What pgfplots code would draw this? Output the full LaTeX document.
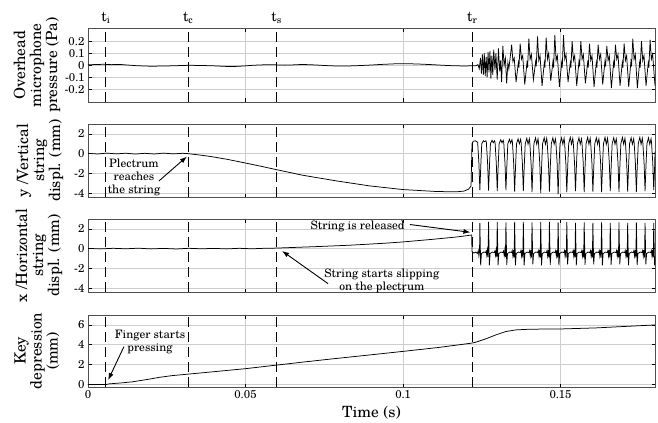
\documentclass[border=0pt]{standalone}
\usepackage{fontspec}
\setmainfont{TeX Gyre Schola}
\usepackage{pgfplots}
\pgfplotsset{compat=1.18}
\usetikzlibrary{arrows.meta}
\definecolor{gridc}{RGB}{205,205,205}
\definecolor{framec}{RGB}{80,80,80}
\pgfplotsset{
 panel/.style={scale only axis, width=567pt, xmin=0, xmax=0.18,
   xtick={0,0.05,0.1,0.15}, grid=major,
   major grid style={gridc, line width=0.7pt},
   axis line style={framec, line width=0.8pt},
   tick align=inside, major tick length=3.5pt,
   tick style={black, line width=0.6pt},
   ticklabel style={font=\fontsize{11.5}{12}\selectfont},
   /pgf/number format/assume math mode=true,
   ylabel style={align=center, font=\fontsize{15.5}{16}\selectfont, anchor=center},
   xlabel style={font=\fontsize{15.5}{16}\selectfont},
   clip mode=individual, anchor=south west},
 sig/.style={black, line width=0.75pt, no markers},
 tline/.style={black, line width=1pt, dash pattern=on 10pt off 5pt, no markers},
}
\tikzset{
 ann/.style={font=\fontsize{11.6}{13}\selectfont, align=center, inner sep=0pt},
 tlab/.style={font=\fontsize{14}{14}\selectfont, anchor=base, inner sep=0pt},
 arr/.style={-{Latex[length=7pt,width=5pt]}, line width=0.9pt},
}
\begin{document}
\begin{tikzpicture}
\path (0,0) rectangle (658pt,421pt);
% ---------- Panel 1 ----------
\begin{axis}[panel, at={(88pt,319pt)}, height=73.5pt, ymin=-0.305, ymax=0.305,
  ytick={-0.2,-0.1,0,0.1,0.2}, yticklabels={-0.2,-0.1,0,0.1,0.2}, xticklabels={},
  ylabel={Overhead\\microphone\\pressure (Pa)},
  ylabel style={at={(axis description cs:-0.09,0.5)}}]
\addplot[tline] coordinates {(0.0057,-0.305)(0.0057,0.305)};
\addplot[tline] coordinates {(0.0318,-0.305)(0.0318,0.305)};
\addplot[tline] coordinates {(0.0599,-0.305)(0.0599,0.305)};
\addplot[tline] coordinates {(0.1220,-0.305)(0.1220,0.305)};
\addplot[sig] coordinates {
(0,0.004)(0.0025,0.006)(0.005,0.008)(0.0075,0.005)(0.01,0.007)(0.0125,0.002)(0.015,-0.003)(0.0175,-0.006)(0.02,-0.008)(0.0225,-0.007)(0.025,-0.006)(0.0275,-0.004)(0.03,-0.002)(0.0325,0.0)(0.035,-0.002)(0.0375,-0.003)(0.04,-0.005)(0.0425,-0.008)(0.045,-0.011)(0.0475,-0.009)(0.05,-0.005)(0.0525,0.0)(0.055,0.003)(0.0575,0.004)(0.06,0.003)(0.0625,0.001)(0.065,0.003)(0.0675,0.006)(0.07,0.005)(0.0725,0.002)(0.075,-0.002)(0.0775,-0.005)(0.08,-0.007)(0.0825,-0.006)(0.085,-0.004)(0.0875,-0.001)(0.09,0.002)(0.0925,0.006)(0.095,0.009)(0.0975,0.012)(0.1,0.013)(0.1025,0.012)(0.105,0.01)(0.1075,0.007)(0.11,0.004)(0.1125,0.0)(0.115,-0.003)(0.1175,-0.005)(0.12,-0.006)(0.1219,-0.004)
(0.1225,-0.005)(0.1232,-0.003)(0.1238,0.005)(0.1242,-0.03)(0.1246,0.06)(0.1249,-0.07)(0.1252,0.09)(0.1255,-0.08)(0.1258,0.1)(0.1261,-0.09)(0.1264,0.07)(0.1267,-0.1)(0.127,0.11)(0.1273,-0.06)(0.1276,0.12)(0.1279,-0.11)(0.1282,0.08)(0.1285,-0.08)(0.1288,0.13)(0.1292,-0.04)(0.1295,0.1)(0.1299,-0.12)(0.1303,0.14)(0.1307,-0.05)(0.131,0.04)(0.1313,-0.14)(0.1317,0.16)(0.1321,0.0)(0.1325,0.06)(0.1329,-0.15)(0.1333,0.02)(0.1336,-0.03)(0.1345,0.17)(0.1349,0.03)(0.1353,0.06)
(0.1359,-0.14)(0.1366,0.02)(0.1368,-0.02)(0.1372,0.18)(0.1376,0.05)(0.138,0.08)
(0.13865,-0.16)(0.13935,0.02)(0.13955,-0.02)(0.13995,0.22)(0.14035,0.05)(0.14075,0.09)
(0.1414,-0.12)(0.1421,0.03)(0.1423,-0.01)(0.1427,0.24)(0.1431,0.04)(0.1435,0.08)
(0.14415,-0.17)(0.14485,0.02)(0.14505,-0.02)(0.14545,0.23)(0.14585,0.05)(0.14625,0.1)
(0.1469,-0.13)(0.1476,0.03)(0.1478,-0.02)(0.1482,0.25)(0.1486,0.04)(0.149,0.08)
(0.14965,-0.18)(0.15035,0.02)(0.15055,-0.02)(0.15095,0.25)(0.15135,0.05)(0.15175,0.09)
(0.1524,-0.14)(0.1531,0.02)(0.1533,-0.02)(0.1537,0.2)(0.1541,0.04)(0.1545,0.08)
(0.15515,-0.17)(0.15585,0.03)(0.15605,-0.01)(0.15645,0.2)(0.15685,0.05)(0.15725,0.09)
(0.1579,-0.15)(0.1586,0.02)(0.1588,-0.02)(0.1592,0.18)(0.1596,0.04)(0.16,0.08)
(0.16065,-0.18)(0.16135,0.02)(0.16155,-0.02)(0.16195,0.17)(0.16235,0.05)(0.16275,0.09)
(0.1634,-0.16)(0.1641,0.03)(0.1643,-0.01)(0.1647,0.16)(0.1651,0.04)(0.1655,0.08)
(0.16615,-0.19)(0.16685,0.02)(0.16705,-0.02)(0.16745,0.17)(0.16785,0.05)(0.16825,0.09)
(0.1689,-0.17)(0.1696,0.02)(0.1698,-0.02)(0.1702,0.18)(0.1706,0.04)(0.171,0.08)
(0.17165,-0.18)(0.17235,0.03)(0.17255,-0.01)(0.17295,0.22)(0.17335,0.05)(0.17375,0.09)
(0.1744,-0.19)(0.1751,0.02)(0.1753,-0.02)(0.1757,0.2)(0.1761,0.04)(0.1765,0.08)
(0.17715,-0.17)(0.17785,0.02)(0.17805,-0.02)(0.17845,0.21)(0.17885,0.05)(0.17925,0.09)
(0.18,-0.17)};
\node[tlab] at (axis cs:0.0057,0.305) [yshift=7pt] {t\textsubscript{i}};
\node[tlab] at (axis cs:0.0318,0.305) [yshift=7pt] {t\textsubscript{c}};
\node[tlab] at (axis cs:0.0599,0.305) [yshift=7pt] {t\textsubscript{s}};
\node[tlab] at (axis cs:0.1220,0.305) [yshift=7pt] {t\textsubscript{r}};
\end{axis}
% ---------- Panel 2 ----------
\begin{axis}[panel, at={(88pt,224pt)}, height=73pt, ymin=-4.4, ymax=3,
  ytick={-4,-2,0,2}, yticklabels={-4,-2,0,2}, xticklabels={},
  ylabel={y /Vertical\\string\\displ. (mm)},
  ylabel style={at={(axis description cs:-0.0847,0.5)}}]
\addplot[tline] coordinates {(0.0057,-4.4)(0.0057,3)};
\addplot[tline] coordinates {(0.0318,-4.4)(0.0318,3)};
\addplot[tline] coordinates {(0.0599,-4.4)(0.0599,3)};
\addplot[tline] coordinates {(0.1220,-4.4)(0.1220,3)};
\addplot[sig] coordinates {
(0,0.03)(0.003,-0.04)(0.006,0.05)(0.009,-0.03)(0.012,0.04)(0.015,-0.05)(0.018,0.03)(0.021,-0.04)(0.024,0.05)(0.027,-0.03)(0.03,0.03)(0.0316,0.0)(0.0343,-0.1)(0.0385,-0.27)(0.0440,-0.57)(0.0499,-0.95)(0.0550,-1.29)(0.0597,-1.62)(0.0681,-2.19)(0.0787,-2.76)(0.0893,-3.27)(0.0998,-3.64)(0.1104,-3.84)(0.1168,-3.88)(0.1194,-3.8)(0.1208,-3.6)(0.1216,-3.3)
(0.1219,1.0)(0.1223,1.25)(0.1230,1.3)(0.1237,1.15)
(0.1241,-1.0)(0.1244,-3.7)(0.1247,-1.2)(0.125,1.0)(0.1255,1.3)(0.1259,1.2)(0.1263,1.3)
(0.12646,1.15)(0.12686,-1.0)(0.12716,-3.75)(0.12746,-1.2)(0.12776,1.0)(0.12826,1.35)(0.12866,1.1)(0.12906,1.3)
(0.12922,1.15)(0.12962,-1.0)(0.12992,-3.8)(0.13022,-1.2)(0.13052,1.0)(0.13102,1.4)(0.13142,1.1)(0.13182,1.35)
(0.13198,1.15)(0.13238,-1.0)(0.13268,-3.7)(0.13298,-1.2)(0.13328,1.0)(0.13378,1.45)(0.13418,1.05)(0.13458,1.4)
(0.13474,1.15)(0.13514,-1.0)(0.13544,-3.85)(0.13574,-1.2)(0.13604,1.0)(0.13654,1.5)(0.13694,1.0)(0.13734,1.45)
(0.1375,1.1)(0.1379,-1.0)(0.1382,-3.8)(0.1385,-1.2)(0.1388,1.0)(0.1393,1.55)(0.1397,0.95)(0.1401,1.5)
(0.14026,1.1)(0.14066,-1.0)(0.14096,-3.9)(0.14126,-1.2)(0.14156,1.0)(0.14206,1.6)(0.14246,0.95)(0.14286,1.5)
(0.14302,1.1)(0.14342,-1.0)(0.14372,-4.0)(0.14402,-1.2)(0.14432,1.0)(0.14482,1.6)(0.14522,0.95)(0.14562,1.55)
(0.14578,1.1)(0.14618,-1.0)(0.14648,-3.85)(0.14678,-1.2)(0.14708,1.0)(0.14758,1.6)(0.14798,0.95)(0.14838,1.5)
(0.14854,1.1)(0.14894,-1.0)(0.14924,-4.1)(0.14954,-1.2)(0.14984,1.0)(0.15034,1.6)(0.15074,0.95)(0.15114,1.55)
(0.1513,1.1)(0.1517,-1.0)(0.152,-3.9)(0.1523,-1.2)(0.1526,1.0)(0.1531,1.65)(0.1535,0.95)(0.1539,1.55)
(0.15406,1.1)(0.15446,-1.0)(0.15476,-3.8)(0.15506,-1.2)(0.15536,1.0)(0.15586,1.6)(0.15626,0.95)(0.15666,1.5)
(0.15682,1.1)(0.15722,-1.0)(0.15752,-3.9)(0.15782,-1.2)(0.15812,1.0)(0.15862,1.65)(0.15902,0.95)(0.15942,1.55)
(0.15958,1.1)(0.15998,-1.0)(0.16028,-3.85)(0.16058,-1.2)(0.16088,1.0)(0.16138,1.6)(0.16178,0.95)(0.16218,1.5)
(0.16234,1.1)(0.16274,-1.0)(0.16304,-3.9)(0.16334,-1.2)(0.16364,1.0)(0.16414,1.65)(0.16454,0.95)(0.16494,1.55)
(0.1651,1.1)(0.1655,-1.0)(0.1658,-3.8)(0.1661,-1.2)(0.1664,1.0)(0.1669,1.6)(0.1673,0.95)(0.1677,1.5)
(0.16786,1.1)(0.16826,-1.0)(0.16856,-3.9)(0.16886,-1.2)(0.16916,1.0)(0.16966,1.65)(0.17006,0.95)(0.17046,1.55)
(0.17062,1.1)(0.17102,-1.0)(0.17132,-3.85)(0.17162,-1.2)(0.17192,1.0)(0.17242,1.6)(0.17282,0.95)(0.17322,1.5)
(0.17338,1.1)(0.17378,-1.0)(0.17408,-3.9)(0.17438,-1.2)(0.17468,1.0)(0.17518,1.65)(0.17558,0.95)(0.17598,1.55)
(0.17614,1.1)(0.17654,-1.0)(0.17684,-3.8)(0.17714,-1.2)(0.17744,1.0)(0.17794,1.6)(0.17834,0.95)(0.17874,1.5)
(0.1789,1.1)(0.1793,-1.0)(0.1796,-3.7)(0.1799,-1.2)(0.18,0.2)};
\node[ann] at (axis cs:0.0146,-2.37) {Plectrum\\reaches\\the string};
\draw[arr] (axis cs:0.0225,-2.78) -- (axis cs:0.0314,-0.3);
\end{axis}
% ---------- Panel 3 ----------
\begin{axis}[panel, at={(88pt,129pt)}, height=73pt, ymin=-4.4, ymax=3,
  ytick={-4,-2,0,2}, yticklabels={-4,-2,0,2}, xticklabels={},
  ylabel={x /Horizontal\\string\\displ. (mm)},
  ylabel style={at={(axis description cs:-0.0864,0.5)}}]
\addplot[tline] coordinates {(0.0057,-4.4)(0.0057,3)};
\addplot[tline] coordinates {(0.0318,-4.4)(0.0318,3)};
\addplot[tline] coordinates {(0.0599,-4.4)(0.0599,3)};
\addplot[tline] coordinates {(0.1220,-4.4)(0.1220,3)};
\addplot[sig] coordinates {
(0,0.02)(0.004,-0.03)(0.008,0.03)(0.012,-0.02)(0.016,0.04)(0.02,-0.03)(0.024,0.02)(0.028,-0.04)(0.032,0.03)(0.036,-0.02)(0.04,0.02)(0.044,-0.03)(0.048,0.03)(0.052,-0.02)(0.056,0.03)
(0.0597,0.05)(0.0724,0.2)(0.0829,0.34)(0.0935,0.53)(0.0998,0.67)(0.1094,0.94)(0.1168,1.17)(0.1205,1.32)(0.1218,1.38)
(0.1219,-0.3)(0.1225,-0.45)(0.1231,-0.35)(0.1236,-0.5)(0.1239,-0.2)(0.1241,-0.75)(0.1243,-0.3)
(0.1244,2.6)(0.12465,-1.7)(0.1249,-0.5)(0.1256,-0.35)(0.1262,-0.4)(0.1264,-0.25)(0.1266,-0.7)(0.1268,-0.15)(0.127,-0.85)
(0.12716,2.7)(0.12741,-1.7)(0.12766,-0.5)(0.12836,-0.35)(0.12896,-0.4)(0.12916,-0.25)(0.12936,-0.7)(0.12956,-0.15)(0.12976,-0.85)
(0.12992,2.7)(0.13017,-1.7)(0.13042,-0.5)(0.13112,-0.35)(0.13172,-0.4)(0.13192,-0.25)(0.13212,-0.7)(0.13232,-0.15)(0.13252,-0.85)
(0.13268,2.65)(0.13293,-1.65)(0.13318,-0.5)(0.13388,-0.35)(0.13448,-0.4)(0.13468,-0.2)(0.13488,-0.75)(0.13508,-0.15)(0.13528,-0.9)
(0.13544,2.7)(0.13569,-1.7)(0.13594,-0.5)(0.13664,-0.35)(0.13724,-0.4)(0.13744,-0.2)(0.13764,-0.75)(0.13784,-0.15)(0.13804,-0.9)
(0.1382,2.7)(0.13845,-1.7)(0.1387,-0.5)(0.1394,-0.35)(0.14,-0.4)(0.1402,-0.2)(0.1404,-0.75)(0.1406,-0.15)(0.1408,-0.9)
(0.14096,2.65)(0.14121,-1.6)(0.14146,-0.5)(0.14216,-0.35)(0.14276,-0.4)(0.14296,-0.2)(0.14316,-0.75)(0.14336,-0.15)(0.14356,-0.9)
(0.14372,2.7)(0.14397,-1.7)(0.14422,-0.5)(0.14492,-0.35)(0.14552,-0.4)(0.14572,-0.2)(0.14592,-0.75)(0.14612,-0.15)(0.14632,-0.9)
(0.14648,2.7)(0.14673,-1.65)(0.14698,-0.5)(0.14768,-0.35)(0.14828,-0.4)(0.14848,-0.2)(0.14868,-0.75)(0.14888,-0.15)(0.14908,-0.9)
(0.14924,2.65)(0.14949,-1.7)(0.14974,-0.5)(0.15044,-0.35)(0.15104,-0.4)(0.15124,-0.2)(0.15144,-0.75)(0.15164,-0.15)(0.15184,-0.9)
(0.152,2.7)(0.15225,-1.6)(0.1525,-0.5)(0.1532,-0.35)(0.1538,-0.4)(0.154,-0.2)(0.1542,-0.75)(0.1544,-0.15)(0.1546,-0.9)
(0.15476,2.6)(0.15501,-1.7)(0.15526,-0.5)(0.15596,-0.35)(0.15656,-0.4)(0.15676,-0.2)(0.15696,-0.75)(0.15716,-0.15)(0.15736,-0.9)
(0.15752,2.65)(0.15777,-1.65)(0.15802,-0.5)(0.15872,-0.35)(0.15932,-0.4)(0.15952,-0.2)(0.15972,-0.75)(0.15992,-0.15)(0.16012,-0.9)
(0.16028,2.6)(0.16053,-1.6)(0.16078,-0.5)(0.16148,-0.35)(0.16208,-0.4)(0.16228,-0.2)(0.16248,-0.75)(0.16268,-0.15)(0.16288,-0.9)
(0.16304,2.65)(0.16329,-1.7)(0.16354,-0.5)(0.16424,-0.35)(0.16484,-0.4)(0.16504,-0.2)(0.16524,-0.75)(0.16544,-0.15)(0.16564,-0.9)
(0.1658,2.6)(0.16605,-1.65)(0.1663,-0.5)(0.167,-0.35)(0.1676,-0.4)(0.1678,-0.2)(0.168,-0.75)(0.1682,-0.15)(0.1684,-0.9)
(0.16856,2.65)(0.16881,-1.6)(0.16906,-0.5)(0.16976,-0.35)(0.17036,-0.4)(0.17056,-0.2)(0.17076,-0.75)(0.17096,-0.15)(0.17116,-0.9)
(0.17132,2.6)(0.17157,-1.7)(0.17182,-0.5)(0.17252,-0.35)(0.17312,-0.4)(0.17332,-0.2)(0.17352,-0.75)(0.17372,-0.15)(0.17392,-0.9)
(0.17408,2.65)(0.17433,-1.65)(0.17458,-0.5)(0.17528,-0.35)(0.17588,-0.4)(0.17608,-0.2)(0.17628,-0.75)(0.17648,-0.15)(0.17668,-0.9)
(0.17684,2.6)(0.17709,-1.6)(0.17734,-0.5)(0.17804,-0.35)(0.17864,-0.4)(0.17884,-0.2)(0.17904,-0.75)(0.17924,-0.15)(0.17944,-0.9)
(0.1796,2.6)(0.17985,-1.7)(0.18,-0.8)};
\node[ann] at (axis cs:0.0856,2.29) {String is released};
\draw[arr] (axis cs:0.1022,2.44) -- (axis cs:0.1214,1.65);
\node[ann] at (axis cs:0.0933,-3.28) {String starts slipping\\on the plectrum};
\draw[arr] (axis cs:0.0762,-3.55) -- (axis cs:0.0616,-0.24);
\end{axis}
% ---------- Panel 4 ----------
\begin{axis}[panel, at={(88pt,34pt)}, height=72pt, ymin=-0.25, ymax=7,
  ytick={0,2,4,6}, yticklabels={0,2,4,6}, xticklabels={0,0.05,0.1,0.15},
  xlabel={Time (s)},
  ylabel={Key\\depression\\(mm)},
  ylabel style={at={(axis description cs:-0.09,0.5)}}]
\addplot[tline] coordinates {(0.0057,-0.25)(0.0057,7)};
\addplot[tline] coordinates {(0.0318,-0.25)(0.0318,7)};
\addplot[tline] coordinates {(0.0599,-0.25)(0.0599,7)};
\addplot[tline] coordinates {(0.1220,-0.25)(0.1220,7)};
\addplot[sig] coordinates {
(0,0.0)(0.0057,0.0)(0.0068,0.07)(0.0105,0.16)(0.0141,0.27)(0.0194,0.54)(0.0226,0.72)(0.0268,0.9)(0.0316,1.04)(0.0406,1.31)(0.0501,1.6)(0.0597,1.95)(0.0680,2.25)(0.0766,2.55)(0.0880,2.93)(0.0998,3.33)(0.1110,3.72)(0.1216,4.16)(0.1231,4.26)(0.1263,4.6)(0.1295,5.0)(0.1327,5.34)(0.1358,5.5)(0.1401,5.57)(0.1506,5.6)(0.1612,5.7)(0.1718,5.87)(0.18,6.0)};
\node[ann] at (axis cs:0.0197,4.28) {Finger starts\\pressing};
\draw[arr] (axis cs:0.0114,3.81) -- (axis cs:0.0064,0.45);
\end{axis}
\end{tikzpicture}
\end{document}
